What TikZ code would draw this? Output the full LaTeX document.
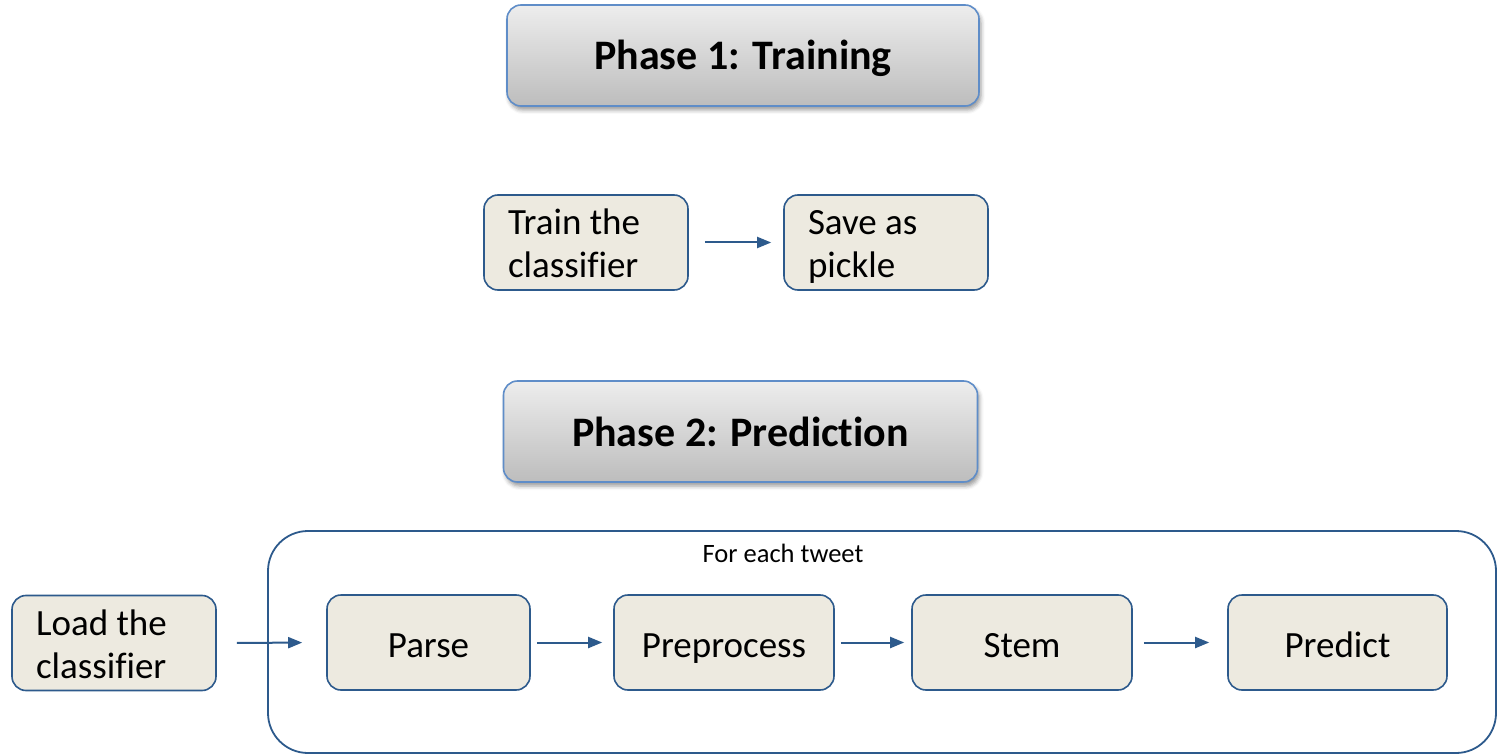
\documentclass[tikz,border=0pt]{standalone}
\usepackage{fontspec}
\setmainfont{Carlito}[Ligatures=NoCommon]
\usetikzlibrary{arrows.meta,shadows.blur}
\definecolor{edgeblue}{HTML}{2D5A8C}
\definecolor{phaseblue}{HTML}{5F8DC8}
\definecolor{stepfill}{HTML}{EDEAE0}
% fixed line height so two-line labels sit alike whatever their letters
\newcommand\linestrut{\rule[-8pt]{0pt}{43pt}}
\begin{document}
\begin{tikzpicture}[x=1pt,y=-1pt,
  phasebox/.style={rounded corners=14pt, draw=phaseblue, line width=1.6pt,
    top color=black!7, bottom color=black!26,
    blur shadow={shadow xshift=2pt, shadow yshift=-4pt, shadow blur radius=4pt, shadow opacity=40},
    minimum height=101pt, inner sep=0pt, text height=29pt, text depth=0pt,
    font=\fontsize{42}{50}\selectfont\bfseries},
  stepbox/.style={rounded corners=14pt, draw=edgeblue, line width=1.6pt,
    fill=stepfill, minimum height=95pt, inner sep=0pt,
    font=\fontsize{37}{43}\selectfont},
  onebox/.style={stepbox, text height=29pt, text depth=0pt},
  leftbox/.style={stepbox, text width=156pt, align=flush left, inner xsep=24pt},
  flow/.style={draw=edgeblue, line width=2pt, -{Triangle[length=14pt,width=11pt]}},
  frame/.style={draw=edgeblue, line width=1.8pt, rounded corners=40pt, inner sep=0pt}
]
\useasboundingbox (0,0) rectangle (1497,754);

% phase headers
\node[phasebox, minimum width=472pt] (p1) at (743,55.5) {Phase 1: Training};
\node[phasebox, minimum width=474pt] (p2) at (740.5,431.5) {Phase 2: Prediction};

% training steps
\node[leftbox] (train) at (586,242.5) {\linestrut Train the\\\linestrut classifier};
\node[leftbox] (save) at (886,242.5) {\linestrut Save as\\\linestrut pickle};
\draw[flow, shorten <=16pt, shorten >=12pt] (train.east) -- (save.west);

% per-tweet loop
\node[frame, minimum width=1228pt, minimum height=222pt] (loop) at (882,642) {};
\node[font=\fontsize{26.5}{30}\selectfont, inner sep=0pt] (looplabel) at (783,553) {For each tweet};

\node[leftbox] (load) at (114,643) {\linestrut Load the\\\linestrut classifier};
\node[onebox, minimum width=203pt] (parse) at (428.5,642.5) {Parse};
\node[onebox, minimum width=220pt] (prep) at (724,642.5) {Preprocess};
\node[onebox, minimum width=220pt] (stem) at (1022,642.5) {Stem};
\node[onebox, minimum width=219pt] (pred) at (1337.5,642.5) {Predict};

\draw[flow, shorten <=20pt, shorten >=24pt] (load.east) -- (parse.west);
\draw[flow, shorten <=6pt, shorten >=11pt] (parse.east) -- (prep.west);
\draw[flow, shorten <=6pt, shorten >=7pt] (prep.east) -- (stem.west);
\draw[flow, shorten <=11pt, shorten >=18pt] (stem.east) -- (pred.west);
\end{tikzpicture}
\end{document}
